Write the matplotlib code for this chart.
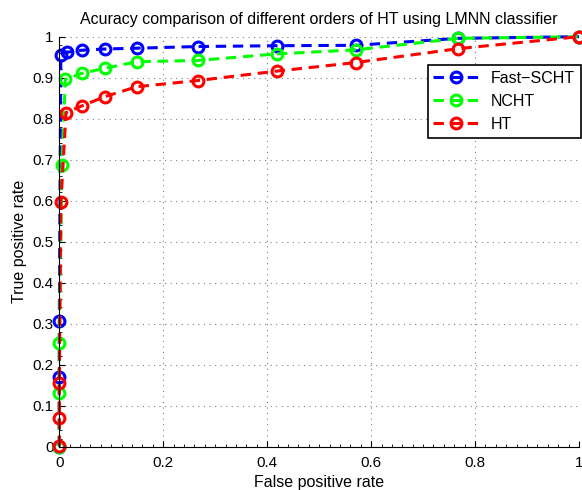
import matplotlib
matplotlib.use("Agg")
import matplotlib.pyplot as plt
from matplotlib.ticker import MultipleLocator

plt.rcParams['font.family'] = ['Liberation Sans', 'DejaVu Sans']

fpr_fast = [0, 0, 0, 0.003, 0.014, 0.043, 0.088, 0.149, 0.266, 0.418, 0.571, 0.767, 1.0]
tpr_fast = [0, 0.170, 0.306, 0.956, 0.962, 0.967, 0.970, 0.972, 0.976, 0.978, 0.979, 0.996, 1.0]

fpr_ncht = [0, 0, 0, 0.005, 0.0115, 0.044, 0.088, 0.149, 0.266, 0.418, 0.571, 0.768, 1.0]
tpr_ncht = [0, 0.130, 0.254, 0.686, 0.896, 0.911, 0.923, 0.939, 0.942, 0.958, 0.968, 0.996, 1.0]

fpr_ht = [0, 0, 0, 0.003, 0.013, 0.043, 0.088, 0.149, 0.266, 0.418, 0.571, 0.768, 1.0]
tpr_ht = [0.002, 0.069, 0.156, 0.596, 0.815, 0.831, 0.854, 0.878, 0.893, 0.916, 0.937, 0.971, 1.0]

labels = ['Fast\u2212SCHT', 'NCHT', 'HT']
colors = ['#0000ff', '#00ff00', '#ff0000']

fig = plt.figure(figsize=(5.82, 4.90), dpi=100)
ax = fig.add_axes([59.3 / 582, 1 - 446.7 / 490, (579 - 59.3) / 582, (446.7 - 36.7) / 490])

series = [(fpr_fast, tpr_fast), (fpr_ncht, tpr_ncht), (fpr_ht, tpr_ht)]
for (x, y), c, lab in zip(series, colors, labels):
    ax.plot(x, y, linestyle=(0, (3.4, 2.2)), color=c, linewidth=2.2,
            marker='o', markersize=7.8, markerfacecolor='none',
            markeredgecolor=c, markeredgewidth=2.2, label=lab, clip_on=False)

ax.set_xlim(0, 1)
ax.set_ylim(0, 1)
ax.set_xticks([0, 0.2, 0.4, 0.6, 0.8, 1.0])
ax.set_xticklabels(['0', '0.2', '0.4', '0.6', '0.8', '1'])
ax.set_yticks([i / 10 for i in range(11)])
ax.set_yticklabels(['0'] + ['0.%d' % i for i in range(1, 10)] + ['1'])
ax.xaxis.set_minor_locator(MultipleLocator(0.02))
ax.yaxis.set_minor_locator(MultipleLocator(0.02))
ax.tick_params(which='both', direction='in', top=False, right=False)
ax.tick_params(which='major', length=4, labelsize=11)
ax.tick_params(axis='x', which='major', pad=7)
ax.tick_params(axis='y', which='major', pad=4)
ax.tick_params(which='minor', length=2)
for s in ['top', 'right']:
    ax.spines[s].set_visible(False)
ax.grid(True, which='major', linestyle=(0, (1, 4)), color='#808080', linewidth=0.8)
ax.set_axisbelow(True)

ax.set_title('Acuracy comparison of different orders of HT using LMNN classifier',
             fontsize=11.5, pad=9)
ax.set_xlabel('False positive rate', fontsize=11.5, labelpad=3)
ax.set_ylabel('True positive rate', fontsize=11.5, labelpad=4)

leg = ax.legend(loc='upper right', bbox_to_anchor=(1.003, 0.930), fontsize=11.5,
                fancybox=False, shadow=False, framealpha=1, edgecolor='black',
                handlelength=2.8, borderpad=0.35, labelspacing=0.5, borderaxespad=0)
leg.get_frame().set_linewidth(1.2)

fig.savefig('out.png', dpi=100)
